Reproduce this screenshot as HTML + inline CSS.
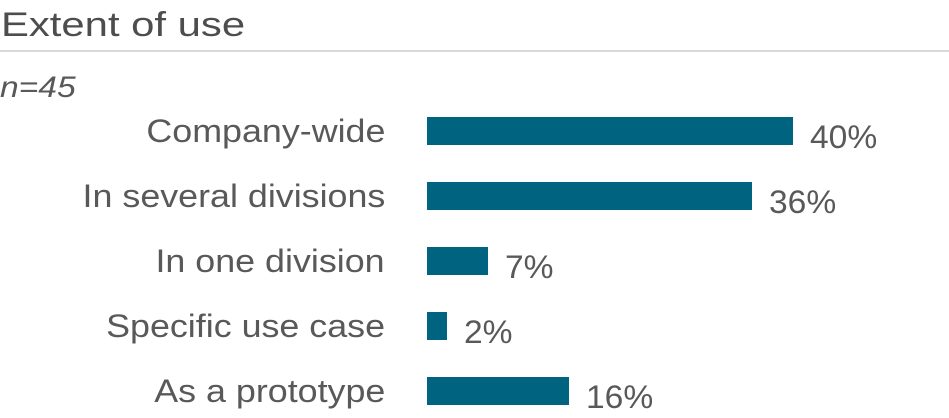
<!DOCTYPE html>
<html><head><meta charset="utf-8"><style>
body{margin:0;width:949px;height:418px;background:#fff;overflow:hidden;position:relative;font-family:"Liberation Sans",sans-serif;color:#595959}
.t{position:absolute;white-space:nowrap;line-height:1;transform-origin:left top}
.bar{position:absolute;left:427px;height:28px;background:#00637f}
.lab{position:absolute;right:564px;font-size:32px;line-height:1;white-space:nowrap;transform:scaleX(1.12);transform-origin:right top}
.val{position:absolute;font-size:32px;line-height:1;white-space:nowrap;transform:scaleX(1.05);transform-origin:left top}
</style></head><body>
<div class="t" style="left:1px;top:8px;font-size:34px;color:#4d4d4d;transform:scaleX(1.23)">Extent of use</div>
<div style="position:absolute;left:0;top:50px;width:949px;height:2px;background:#d9d9d9"></div>
<div class="t" style="left:0;top:73px;font-size:30px;font-style:italic;transform:scaleX(1.12)">n=45</div>

<div class="lab" style="top:115px">Company-wide</div>
<div class="bar" style="top:117px;width:366px"></div>
<div class="val" style="left:810px;top:121px">40%</div>

<div class="lab" style="top:180px">In several divisions</div>
<div class="bar" style="top:182px;width:325px"></div>
<div class="val" style="left:769px;top:186px">36%</div>

<div class="lab" style="top:245px">In one division</div>
<div class="bar" style="top:247px;width:61px"></div>
<div class="val" style="left:505px;top:251px">7%</div>

<div class="lab" style="top:310px">Specific use case</div>
<div class="bar" style="top:312px;width:20px"></div>
<div class="val" style="left:464px;top:316px">2%</div>

<div class="lab" style="top:375px">As a prototype</div>
<div class="bar" style="top:377px;width:142px"></div>
<div class="val" style="left:586px;top:381px">16%</div>
</body></html>
